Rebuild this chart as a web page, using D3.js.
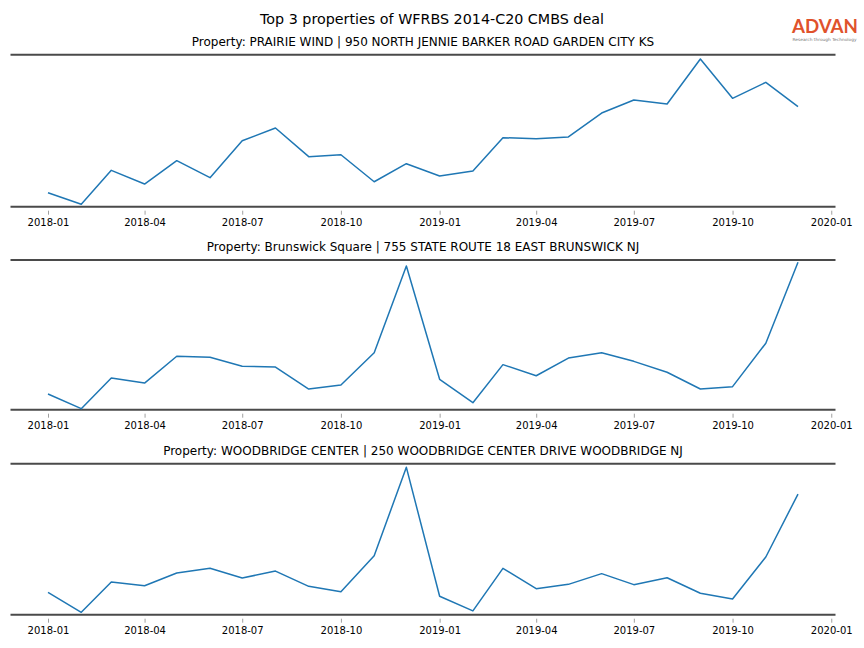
<!DOCTYPE html>
<html>
<head>
<meta charset="utf-8">
<script src="https://cdn.jsdelivr.net/npm/d3@7"></script>
<style>
  html, body { margin: 0; padding: 0; background: #fff; }
  svg { display: block; font-family: "DejaVu Sans", sans-serif; }
</style>
</head>
<body>
<svg id="chart" width="864" height="648"></svg>
<script>
// ---- Data (monthly values, scaled index) ----
const months = ["2018-01","2018-02","2018-03","2018-04","2018-05","2018-06","2018-07","2018-08","2018-09","2018-10","2018-11","2018-12",
                "2019-01","2019-02","2019-03","2019-04","2019-05","2019-06","2019-07","2019-08","2019-09","2019-10","2019-11","2019-12"];
const tickLabels = ["2018-01","2018-04","2018-07","2018-10","2019-01","2019-04","2019-07","2019-10","2020-01"];
const chartTitle = "Top 3 properties of WFRBS 2014-C20 CMBS deal";
const propertyTitles = [
  "Property: PRAIRIE WIND | 950 NORTH JENNIE BARKER ROAD GARDEN CITY KS",
  "Property: Brunswick Square | 755 STATE ROUTE 18 EAST BRUNSWICK NJ",
  "Property: WOODBRIDGE CENTER | 250 WOODBRIDGE CENTER DRIVE WOODBRIDGE NJ"
];
const prairieWind = [9.2, 1.6, 23.9, 14.9, 30.3, 19.1, 43.4, 51.8, 32.9, 34.2, 16.4, 28.3,
                     20.2, 23.5, 45.4, 44.7, 45.9, 61.6, 70.2, 67.6, 97.2, 71.3, 81.8, 65.8];
const brunswickSquare = [10.5, 0.7, 21.2, 17.8, 35.7, 35.0, 29.0, 28.5, 13.8, 16.5, 38.1, 96.0,
                         20.3, 4.7, 30.1, 22.7, 34.5, 38.1, 32.3, 25.0, 13.8, 15.4, 44.4, 98.5];
const woodbridgeCenter = [14.8, 1.6, 21.7, 19.2, 27.6, 30.7, 24.3, 28.9, 18.8, 15.2, 39.1, 97.6,
                          12.2, 2.5, 30.7, 17.2, 20.1, 27.2, 19.9, 24.5, 14.2, 10.4, 38.2, 79.9];
const seriesList = [prairieWind, brunswickSquare, woodbridgeCenter];
const yDomain = [0, 100];

// ---- Layout ----
const W = 864, H = 648;
const axLeft = 10.5, axRight = 835.5;
const panels = [
  { top: 54.7, bottom: 206.7 },
  { top: 260, bottom: 409.7 },
  { top: 463.7, bottom: 614.7 }
];
const parse = d3.utcParse("%Y-%m");
const dates = months.map(parse);
const tickDates = tickLabels.map(parse);

const svg = d3.select("#chart");
svg.append("rect").attr("width", W).attr("height", H).attr("fill", "#fff");

// x scale with 5% padding like matplotlib
const ext = d3.extent(dates);
const span = ext[1] - ext[0];
const x = d3.scaleUtc()
  .domain([new Date(+ext[0] - span * 0.05), new Date(+ext[1] + span * 0.05)])
  .range([axLeft, axRight]);

// main title
svg.append("text")
  .attr("x", 432).attr("y", 24)
  .attr("text-anchor", "middle")
  .attr("font-size", 14.3)
  .attr("fill", "#000")
  .text(chartTitle);

// logo
svg.append("text")
  .attr("x", 792).attr("y", 33)
  .attr("font-family", "Lato, 'DejaVu Sans', sans-serif")
  .attr("font-size", 18)
  .attr("font-weight", "bold")
  .attr("textLength", 66).attr("lengthAdjust", "spacingAndGlyphs")
  .attr("fill", "#e0522b")
  .text("ADVAN");
svg.append("text")
  .attr("x", 792.5).attr("y", 40.5)
  .attr("font-size", 4.2)
  .attr("textLength", 64).attr("lengthAdjust", "spacingAndGlyphs")
  .attr("fill", "#777")
  .text("Research through Technology");

panels.forEach((p, i) => {
  const g = svg.append("g");
  const y = d3.scaleLinear().domain(yDomain).range([p.bottom, p.top]);

  // subplot title
  g.append("text")
    .attr("x", (axLeft + axRight) / 2).attr("y", p.top - 9)
    .attr("text-anchor", "middle")
    .attr("font-size", 12)
    .attr("fill", "#000")
    .text(propertyTitles[i]);

  // x axis
  const xAxis = d3.axisBottom(x)
    .tickValues(tickDates)
    .tickFormat(d3.utcFormat("%Y-%m"))
    .tickSize(4)
    .tickPadding(4);
  const ax = g.append("g")
    .attr("transform", `translate(0,${p.bottom + 4})`)
    .call(xAxis);
  ax.select(".domain").remove();
  ax.selectAll(".tick line").attr("stroke", "#888").attr("stroke-width", 0.8);
  ax.selectAll(".tick text")
    .attr("font-family", "'DejaVu Sans', sans-serif")
    .attr("font-size", 10)
    .attr("fill", "#000");

  // top & bottom spines
  g.append("line")
    .attr("x1", axLeft).attr("x2", axRight)
    .attr("y1", p.top).attr("y2", p.top)
    .attr("stroke", "#4a4a4a").attr("stroke-width", 2);
  g.append("line")
    .attr("x1", axLeft).attr("x2", axRight)
    .attr("y1", p.bottom).attr("y2", p.bottom)
    .attr("stroke", "#4a4a4a").attr("stroke-width", 2);

  // series line
  const line = d3.line()
    .x((d, j) => x(dates[j]))
    .y(d => y(d));
  g.append("path")
    .datum(seriesList[i])
    .attr("fill", "none")
    .attr("stroke", "#1f77b4")
    .attr("stroke-width", 1.5)
    .attr("stroke-linejoin", "round")
    .attr("d", line);
});
</script>
</body>
</html>
